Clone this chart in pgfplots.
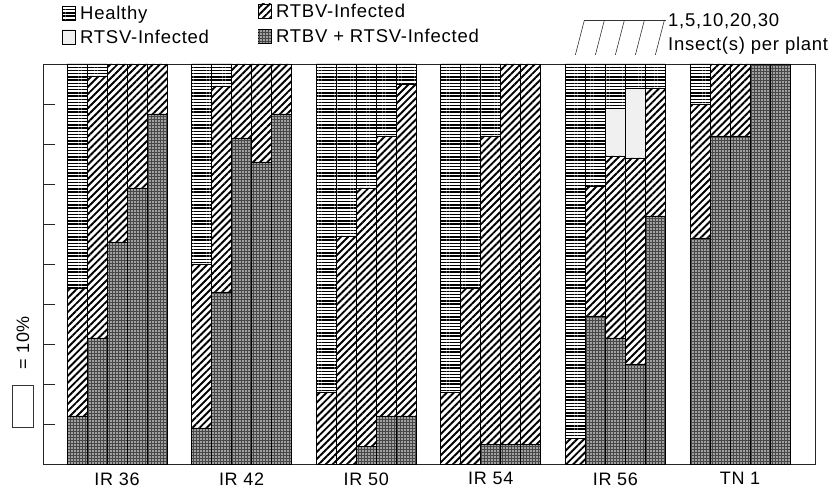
\documentclass[border=0pt]{standalone}
\usepackage{pgfplots}
\pgfplotsset{compat=1.18}
\usetikzlibrary{patterns.meta}
\usepackage{fontspec}
\setmainfont{Liberation Sans}[LetterSpace=4]
\tikzset{
  healthy/.style={pattern={Lines[angle=0,distance=3.2pt,line width=1.4pt]},pattern color=black},
  rtbv/.style={pattern={Lines[angle=45,distance=5pt,line width=1.9pt]},pattern color=black},
  rtsv/.style={pattern={Dots[distance=2pt,radius=0.4pt]},pattern color=black!70},
  both/.style={fill=black!72, postaction={pattern={Dots[distance=3pt,radius=0.85pt]},pattern color=white}},
}
\begin{document}
\begin{tikzpicture}[x=1pt,y=1pt]
\useasboundingbox (0,0) rectangle (833,493);
\begin{axis}[
  at={(43pt,29pt)}, anchor=south west,
  x=20pt, y=4pt,
  xmin=-1.2, xmax=37.4, ymin=0, ymax=100,
  ybar stacked, bar width=1,
  axis line style={line width=0.8pt, black!85},
  ytick={10,20,...,90}, yticklabels={}, ytick pos=left,
  ytick style={line width=0.8pt, black!85},
  tick align=inside, major tick length=12pt,
  xtick={2.5,8.73,14.96,21.19,27.42,33.65},
  xticklabels={IR 36, IR 42, IR 50, IR 54, IR 56, TN 1},
  xtick style={draw=none},
  x tick label style={font=\fontsize{18}{19}\selectfont, yshift=-5pt},
  clip=false,
]
\addplot[draw=black, line width=0.8pt, both] coordinates {
(0.5,12) (1.5,31.5) (2.5,55.5) (3.5,69) (4.5,87.5)
(6.73,9) (7.73,43) (8.73,81.5) (9.73,75.5) (10.73,87.5)
(12.96,0) (13.96,0) (14.96,4.5) (15.96,12) (16.96,12)
(19.19,0) (20.19,0) (21.19,5) (22.19,5) (23.19,5)
(25.42,0) (26.42,37) (27.42,31.5) (28.42,25) (29.42,62)
(31.65,56.5) (32.65,82) (33.65,82) (34.65,100) (35.65,100)};
\addplot[draw=black, line width=0.8pt, rtbv] coordinates {
(0.5,32) (1.5,65.5) (2.5,44.5) (3.5,31) (4.5,12.5)
(6.73,41) (7.73,51.5) (8.73,18.5) (9.73,24.5) (10.73,12.5)
(12.96,18) (13.96,57) (14.96,64.5) (15.96,70) (16.96,83)
(19.19,18) (20.19,44) (21.19,77) (22.19,95) (23.19,95)
(25.42,6.5) (26.42,32.5) (27.42,45.5) (28.42,51.5) (29.42,32)
(31.65,33.5) (32.65,18) (33.65,18) (34.65,0) (35.65,0)};
\addplot[draw=black, line width=0.8pt, rtsv] coordinates {
(0.5,0) (1.5,0) (2.5,0) (3.5,0) (4.5,0)
(6.73,0) (7.73,0) (8.73,0) (9.73,0) (10.73,0)
(12.96,0) (13.96,0) (14.96,0) (15.96,0) (16.96,0)
(19.19,0) (20.19,0) (21.19,0) (22.19,0) (23.19,0)
(25.42,0) (26.42,0) (27.42,12) (28.42,17.5) (29.42,0)
(31.65,0) (32.65,0) (33.65,0) (34.65,0) (35.65,0)};
\addplot[draw=black, line width=0.8pt, healthy] coordinates {
(0.5,56) (1.5,3) (2.5,0) (3.5,0) (4.5,0)
(6.73,50) (7.73,5.5) (8.73,0) (9.73,0) (10.73,0)
(12.96,82) (13.96,43) (14.96,31) (15.96,18) (16.96,5)
(19.19,82) (20.19,56) (21.19,18) (22.19,0) (23.19,0)
(25.42,93.5) (26.42,30.5) (27.42,11) (28.42,6) (29.42,6)
(31.65,10) (32.65,0) (33.65,0) (34.65,0) (35.65,0)};
% insect-count key
\draw[line width=0.6pt, black!80] (axis cs:25.42,102.3) -- (axis cs:25.87,111);
\draw[line width=0.6pt, black!80] (axis cs:26.42,102.3) -- (axis cs:26.87,111);
\draw[line width=0.6pt, black!80] (axis cs:27.42,102.3) -- (axis cs:27.87,111);
\draw[line width=0.6pt, black!80] (axis cs:28.42,102.3) -- (axis cs:28.87,111);
\draw[line width=0.6pt, black!80] (axis cs:29.42,102.3) -- (axis cs:29.87,111);
\draw[line width=0.6pt, black!80] (axis cs:25.87,111) -- (axis cs:29.95,111);
\end{axis}
% legend
\draw[healthy, line width=0.6pt] (62,473) rectangle (75,487);
\node[anchor=base west, inner sep=0pt, font=\fontsize{18.5}{19}\selectfont] at (80,473) {Healthy};
\draw[rtsv, line width=0.6pt] (62,449) rectangle (75,463);
\node[anchor=base west, inner sep=0pt, font=\fontsize{18.5}{19}\selectfont] at (80,449) {RTSV-Infected};
\draw[rtbv, line width=0.6pt] (258,475) rectangle (271,489);
\node[anchor=base west, inner sep=0pt, font=\fontsize{18.5}{19}\selectfont] at (276,475) {RTBV-Infected};
\draw[both, line width=0.6pt] (258,450) rectangle (271,464);
\node[anchor=base west, inner sep=0pt, font=\fontsize{18.5}{19}\selectfont] at (276,450) {RTBV + RTSV-Infected};
\node[anchor=base west, inner sep=0pt, font=\fontsize{18.5}{19}\selectfont] at (668,466) {1,5,10,20,30};
\node[anchor=base west, inner sep=0pt, font=\fontsize{18.5}{19}\selectfont] at (668,442) {Insect(s) per plant};
% 10% scale key
\draw[line width=0.7pt, black!80] (12,66) rectangle (33,108);
\node[rotate=90, inner sep=0pt, font=\fontsize{18}{19}\selectfont] at (23,150) {= 10\%};
\end{tikzpicture}
\end{document}
